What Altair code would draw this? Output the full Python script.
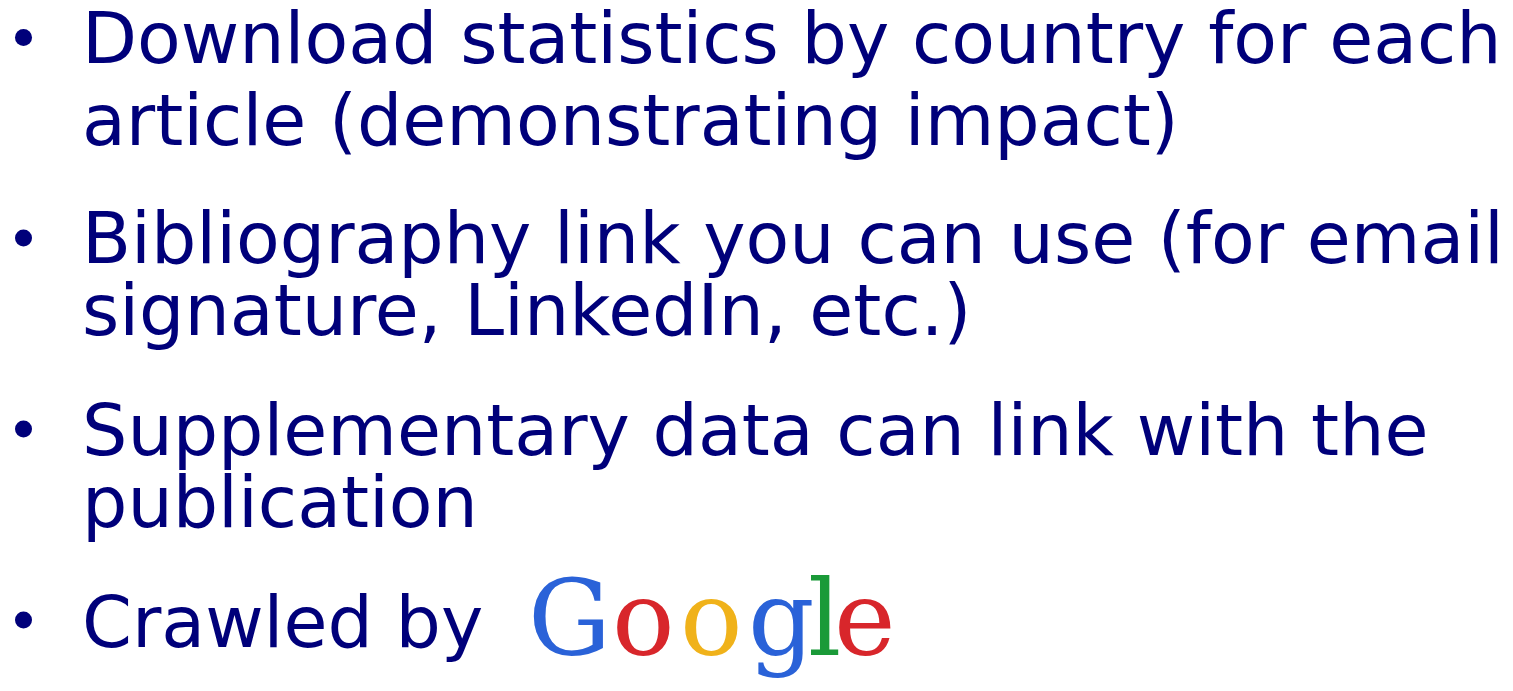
import altair as alt
import pandas as pd

# Slide content
lines = [
    "Download statistics by country for each",
    "article (demonstrating impact)",
    "Bibliography link you can use (for email",
    "signature, LinkedIn, etc.)",
    "Supplementary data can link with the",
    "publication",
    "Crawled by",
]
line_baselines = [63, 145, 263, 335, 455, 527, 647]
bullet_centers = [37.5, 238, 429, 620]

google_letters = ["G", "o", "o", "g", "l", "e"]
google_colors = ["#2a62d8", "#d8262b", "#f0b21a", "#2a62d8", "#1a9a38", "#d8262b"]
google_x = [528, 612, 680, 748, 808, 834]

TEXT_X = 82
NAVY = "#00007a"
W, H = 1497, 675

lines_df = pd.DataFrame({"text": lines, "x": [TEXT_X] * len(lines), "y": line_baselines})
bullets_df = pd.DataFrame({"x": [23.5] * len(bullet_centers), "y": bullet_centers})
google_df = pd.DataFrame({"t": google_letters, "c": google_colors, "x": google_x,
                          "y": [655] * len(google_letters)})

xs = alt.Scale(domain=[8, 8 + W])
ys = alt.Scale(domain=[8, 8 + H], reverse=True)

text_layer = alt.Chart(lines_df).mark_text(
    align="left", baseline="alphabetic", font="DejaVu Sans", fontSize=71.5, color=NAVY
).encode(
    x=alt.X("x:Q", scale=xs, axis=None),
    y=alt.Y("y:Q", scale=ys, axis=None),
    text="text:N",
)

bullet_layer = alt.Chart(bullets_df).mark_circle(size=290, color=NAVY, opacity=1).encode(
    x=alt.X("x:Q", scale=xs, axis=None),
    y=alt.Y("y:Q", scale=ys, axis=None),
)

google_layer = alt.Chart(google_df).mark_text(
    align="left", baseline="alphabetic", font="DejaVu Serif", fontSize=104
).encode(
    x=alt.X("x:Q", scale=xs, axis=None),
    y=alt.Y("y:Q", scale=ys, axis=None),
    text="t:N",
    color=alt.Color("c:N", scale=None),
)

chart = alt.layer(text_layer, bullet_layer, google_layer).properties(
    width=W, height=H, padding=0, background="white",
    autosize=alt.AutoSizeParams(type="none"),
).configure_view(stroke=None, strokeWidth=0)

chart.save("out.html", embed_options={"renderer": "svg", "actions": False})
